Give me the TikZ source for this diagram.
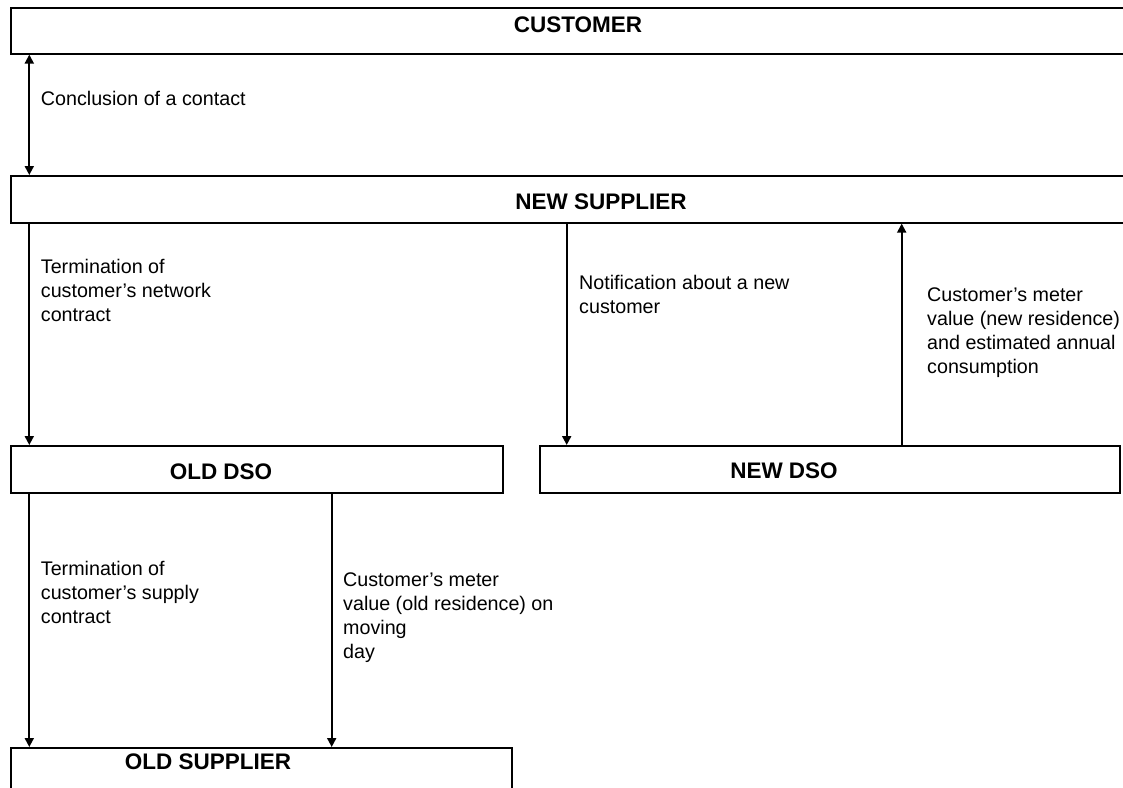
\documentclass[tikz,border=0pt]{standalone}
\usepackage{fontspec}
\setmainfont{Liberation Sans}
\usetikzlibrary{arrows.meta}
\tikzset{
  box/.style={draw, line width=1.6pt, rectangle, inner sep=0pt, anchor=north west},
  title/.style={inner sep=0pt, font=\fontsize{22.5}{27}\selectfont\bfseries},
  note/.style={inner sep=0pt, anchor=north west, align=left, font=\fontsize{19.7}{24}\selectfont},
  arr/.style={line width=1.9pt, -{Triangle[length=9pt,width=9pt]}},
  arrboth/.style={line width=1.9pt, {Triangle[length=9pt,width=9pt]}-{Triangle[length=9pt,width=9pt]}}
}
\begin{document}
\begin{tikzpicture}[x=1pt,y=1pt,yscale=-1]
  \useasboundingbox (0,0) rectangle (1123,787);
  \clip (0,0) rectangle (1123,787);
  % boxes
  \node[box, minimum width=1130pt, minimum height=46pt] (customer) at (10,7) {};
  \node[box, minimum width=1130pt, minimum height=47pt] (newsup) at (10,175) {};
  \node[box, minimum width=492pt, minimum height=47pt] (olddso) at (10,445) {};
  \node[box, minimum width=580pt, minimum height=47pt] (newdso) at (539,445) {};
  \node[box, minimum width=501pt, minimum height=60pt] (oldsup) at (10,747) {};
  % titles
  \node[title] (customert) at (578,25) {CUSTOMER};
  \node[title] (newsupt) at (601,202) {NEW SUPPLIER};
  \node[title] (olddsot) at (221,472) {OLD DSO};
  \node[title] (newdsot) at (784,471) {NEW DSO};
  \node[title] (oldsupt) at (208,762) {OLD SUPPLIER};
  % arrows
  \draw[arrboth] ([xshift=19.3pt]customer.south west) -- ([xshift=19.3pt]newsup.north west);
  \draw[arr] ([xshift=19.3pt]newsup.south west) -- ([xshift=19.3pt]olddso.north west);
  \draw[arr] ([xshift=556.7pt]newsup.south west) -- ([xshift=27.7pt]newdso.north west);
  \draw[arr] ([xshift=362.7pt]newdso.north west) -- ([xshift=891.7pt]newsup.south west);
  \draw[arr] ([xshift=19.3pt]olddso.south west) -- ([xshift=19.3pt]oldsup.north west);
  \draw[arr] ([xshift=321.7pt]olddso.south west) -- ([xshift=321.7pt]oldsup.north west);
  % labels
  \node[note] (concl) at (40.7,91) {Conclusion of a contact};
  \node[note] (termnet) at (40.7,259.5) {Termination of\\customer’s network\\contract};
  \node[note] (notif) at (579,275) {Notification about a new\\customer};
  \node[note] (meternew) at (927,288) {Customer’s meter\\value (new residence)\\and estimated annual\\consumption};
  \node[note] (termsup) at (40.7,561) {Termination of\\customer’s supply\\contract};
  \node[note] (meterold) at (343,573) {Customer’s meter\\value (old residence) on\\moving\\day};
\end{tikzpicture}
\end{document}
